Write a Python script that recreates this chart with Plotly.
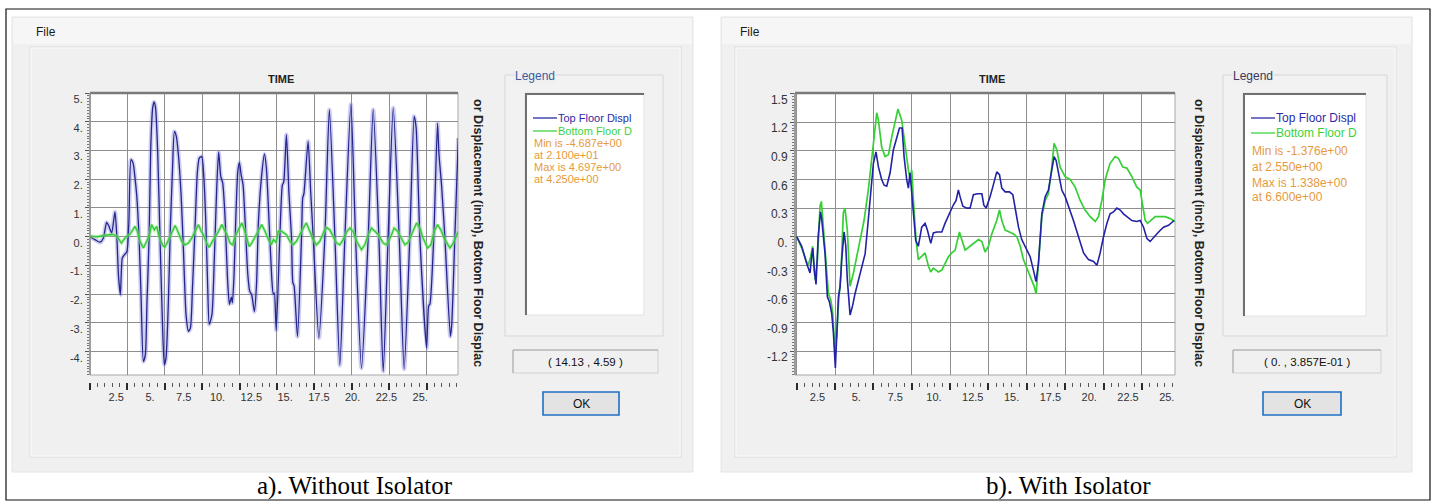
import plotly.graph_objects as go

W, H = 1435, 501

# ---------------- data ----------------
# a) Without isolator
LEFT_TOP_T = [0, 0.33, 0.67, 0.89, 1.11, 1.27, 1.45, 1.67, 1.8, 1.9, 2.03, 2.16, 2.3, 2.47, 2.6, 2.74, 2.88,
              3.01, 3.12, 3.28, 3.41, 3.57, 3.7, 3.81, 3.95, 4.06, 4.19, 4.28, 4.38, 4.53, 4.68, 4.84, 4.97,
              5.08, 5.24, 5.37, 5.51, 5.64, 5.77, 5.91, 6.09, 6.24, 6.42, 6.58, 6.71, 6.85, 7.02, 7.18, 7.31,
              7.47, 7.6, 7.74, 7.87, 7.97, 8.15, 8.32, 8.47, 8.6, 8.74, 8.87, 9.03, 9.19, 9.32, 9.45, 9.52,
              9.63, 9.74, 9.88, 9.99, 10.1, 10.23, 10.37, 10.55, 10.68, 10.81, 10.99, 11.13, 11.26, 11.48,
              11.66, 11.79, 11.97, 12.15, 12.25, 12.32, 12.45, 12.69, 12.86, 12.95, 13.13, 13.3, 13.47,
              13.56, 13.64, 13.87, 14.14, 14.22, 14.3, 14.58, 14.75, 14.92, 15.3, 15.7, 16.0, 16.37, 16.7,
              17.04, 17.44, 17.75, 18.15, 18.6, 18.93, 19.31, 19.6, 19.93, 20.27, 20.67, 21.0, 21.38, 21.67,
              21.8, 22.05, 22.5, 22.64, 22.72, 22.98, 23.23, 23.33, 23.5, 23.72, 24.09, 24.18, 24.39, 24.62]
LEFT_TOP = [0, -0.1, -0.19, -0.05, 0.5, 0.36, 0.13, 0.86, -0.05, -1.32, -2.02, -0.74, -0.63, -0.51, 0.53, 2.68,
            2.56, 2.04, 1.46, -0.05, -2.02, -4.34, -4.1, -2.25, -0.05, 3.08, 4.48, 4.69, 4.5, 2.85, -0.05,
            -2.94, -4.45, -4.22, -2.25, 0.3, 2.27, 3.66, 3.49, 2.85, 1.46, -0.39, -2.71, -3.29, -3.18, -1.79,
            0.3, 2.27, 2.74, 2.79, 2.16, 0.53, -1.79, -3.05, -2.71, -0.63, 1.69, 2.95, 2.1, 1.87, 0.65,
            -1.44, -2.35, -2.1, -2.3, -1.32, 0.53, 2.27, 2.58, 2.16, 1.81, 0.53, -1.32, -1.9, -2.02, -2.6,
            -1.67, 0.53, 2.16, 2.88, 2.39, 0.53, -1.44, -2.0, -1.95, -3.25, 0, 1.8, 1.9, 3.55, 1.5, 0,
            -1.6, -1.7, -3.47, 0, 1.35, 1.5, 3.32, 1.6, 0, -3.52, 0, 4.42, 0, -4.47,
            0, 4.6, 0, -4.57, 0, 4.42, 0, -4.68, 0, 4.48, 0, -4.6, 0, 4.19,
            3.8, 0, -3.87, -2.4, -2.35, 0, 3.95, 2.85, 1.8, 0, -3.47, -3.06, 0, 3.43]

LEFT_BOT_T = [0, 0.5, 1.0, 1.5, 1.8, 2.1, 2.4, 2.7, 3.0, 3.18, 3.34, 3.57, 3.79, 3.97, 4.12, 4.3, 4.46, 4.62,
              4.84, 5.0, 5.2, 5.42, 5.57, 5.69, 5.87, 6.13, 6.35, 6.58, 6.8, 7.14, 7.25, 7.43, 7.58, 7.8, 7.96,
              8.18, 8.47, 8.7, 8.81, 9.03, 9.21, 9.36, 9.54, 9.7, 9.88, 10.03, 10.15, 10.32, 10.48, 10.64,
              10.81, 11.04, 11.26, 11.48, 11.7, 11.88, 12.11, 12.27, 12.45, 12.58, 12.8, 13.13, 13.36, 13.58,
              13.8, 14.02, 14.25, 14.47, 14.69, 14.92, 15.14, 15.36, 15.65, 15.8, 16.03, 16.25, 16.48, 16.7,
              16.92, 17.15, 17.37, 17.59, 17.82, 18.15, 18.37, 18.6, 18.82, 19.05, 19.27, 19.6, 19.82, 20.11,
              20.33, 20.56, 20.83, 21.05, 21.27, 21.5, 21.83, 22.05, 22.27, 22.57, 22.79, 23.01, 23.23, 23.45,
              23.72, 24.06, 24.28, 24.62]
LEFT_BOT = [0.02, 0.0, 0.05, 0.08, 0.02, -0.22, 0.0, 0.1, 0.36, 0.18, -0.16, -0.39, -0.16, 0.07, 0.42, 0.24,
            0.36, 0.01, -0.28, -0.37, -0.16, 0.07, 0.24, 0.39, 0.19, -0.16, -0.28, -0.22, -0.05, 0.3, 0.42,
            0.19, 0.07, -0.22, -0.37, -0.16, 0.07, 0.3, 0.42, 0.19, 0.01, -0.22, -0.28, 0.01, 0.19, 0.36,
            0.48, 0.24, -0.05, -0.34, -0.22, 0.01, 0.24, 0.42, 0.19, -0.05, -0.28, -0.1, -0.2, 0.19, 0.19,
            0.07, -0.16, -0.28, -0.16, 0.07, 0.3, 0.48, 0.19, -0.1, -0.28, -0.16, 0.19, 0.32, 0.24, 0.01,
            -0.22, -0.28, -0.1, 0.16, 0.3, 0.19, -0.16, -0.45, -0.28, 0.07, 0.3, 0.19, 0.07, -0.22, -0.28,
            0.01, 0.3, 0.19, -0.1, -0.28, -0.19, 0.07, 0.48, 0.3, -0.05, -0.39, -0.28, 0.19, 0.42, 0.24,
            -0.1, -0.39, -0.22, 0.19]

# b) With isolator
RIGHT_TOP_T = [0, 0.33, 0.65, 0.87, 0.98, 1.05, 1.15, 1.26, 1.4, 1.55, 1.62, 1.85, 2.0, 2.13, 2.28, 2.39, 2.52,
               2.6, 2.72, 2.83, 2.93, 3.09, 3.2, 3.3, 3.48, 3.65, 3.8, 4.13, 4.46, 4.67, 4.89, 5.0, 5.17, 5.33,
               5.54, 5.7, 5.87, 6.09, 6.3, 6.52, 6.7, 6.87, 7.0, 7.17, 7.28, 7.39, 7.5, 7.61, 7.76, 7.93, 8.15,
               8.37, 8.52, 8.74, 8.91, 9.13, 9.46, 9.67, 10.0, 10.2, 10.39, 10.54, 10.65, 10.83, 11.09, 11.3,
               11.52, 11.78, 12.07, 12.2, 12.35, 12.57, 12.78, 13.04, 13.22, 13.37, 13.59, 13.87, 14.09, 14.24,
               14.46, 14.67, 15.0, 15.22, 15.43, 15.6, 15.76, 15.98, 16.2, 16.41, 16.63, 16.78, 16.91, 17.07,
               17.28, 17.5, 17.83, 18.04, 18.37, 18.7, 19.02, 19.35, 19.57, 19.78, 20.0, 20.22, 20.43, 20.65,
               20.87, 21.09, 21.3, 21.52, 21.85, 22.17, 22.39, 22.61, 22.83, 23.04, 23.3, 23.59, 23.91, 24.24,
               24.6]
RIGHT_TOP = [0, -0.1, -0.28, -0.38, -0.2, -0.12, -0.35, -0.5, 0.0, 0.26, 0.2, -0.18, -0.63, -0.68, -0.8, -1.0,
             -1.376, -1.12, -0.63, -0.53, -0.25, 0.05, -0.1, -0.45, -0.82, -0.72, -0.6, -0.39, -0.18, 0.18, 0.6,
             0.77, 0.89, 0.73, 0.6, 0.54, 0.53, 0.67, 0.91, 1.05, 1.14, 1.14, 0.84, 0.6, 0.51, 0.67, 0.46, 0.25,
             -0.04, -0.1, 0.1, 0.14, 0.07, -0.07, 0.04, 0.05, 0.05, 0.14, 0.26, 0.33, 0.38, 0.49, 0.42, 0.32,
             0.3, 0.3, 0.44, 0.45, 0.45, 0.33, 0.3, 0.4, 0.52, 0.68, 0.65, 0.51, 0.47, 0.47, 0.44, 0.31, 0.1,
             -0.03, -0.14, -0.21, -0.35, -0.47, -0.28, 0.24, 0.42, 0.49, 0.7, 0.84, 0.8, 0.66, 0.49, 0.42, 0.28,
             0.17, 0.0, -0.17, -0.24, -0.26, -0.3, -0.17, 0.0, 0.14, 0.24, 0.26, 0.3, 0.28, 0.24, 0.21, 0.17,
             0.16, 0.17, 0.1, -0.02, -0.05, 0.0, 0.05, 0.1, 0.12, 0.17]

RIGHT_BOT_T = [0, 0.33, 0.61, 0.76, 0.91, 1.04, 1.12, 1.2, 1.35, 1.52, 1.61, 1.74, 1.91, 2.07, 2.22, 2.35, 2.48,
               2.61, 2.74, 2.89, 3.04, 3.15, 3.3, 3.48, 3.7, 3.91, 4.13, 4.39, 4.67, 4.89, 5.11, 5.22, 5.33, 5.54,
               5.76, 5.98, 6.2, 6.41, 6.6, 6.85, 7.07, 7.28, 7.39, 7.5, 7.61, 7.78, 7.93, 8.15, 8.37, 8.59, 8.74,
               8.91, 9.24, 9.46, 9.67, 9.89, 10.11, 10.33, 10.43, 10.61, 10.76, 10.98, 11.3, 11.52, 11.85, 12.07,
               12.28, 12.5, 12.72, 13.04, 13.22, 13.37, 13.59, 13.87, 14.13, 14.35, 14.57, 14.78, 15.04, 15.26,
               15.48, 15.61, 15.76, 15.98, 16.2, 16.41, 16.63, 16.78, 16.96, 17.17, 17.5, 17.83, 18.15, 18.48,
               18.8, 19.13, 19.46, 19.67, 19.89, 20.11, 20.43, 20.76, 20.98, 21.26, 21.52, 21.85, 22.17, 22.39,
               22.57, 22.72, 22.87, 23.09, 23.37, 23.7, 24.02, 24.35, 24.67]
RIGHT_BOT = [0, -0.12, -0.25, -0.3, -0.21, -0.1, -0.3, -0.45, -0.25, 0.32, 0.37, 0.1, -0.32, -0.6, -0.66, -0.8,
             -1.16, -1.05, -0.66, -0.38, 0.25, 0.3, 0.07, -0.52, -0.38, -0.21, -0.03, 0.17, 0.49, 0.84, 1.15,
             1.3, 1.22, 0.94, 0.84, 0.86, 1.05, 1.22, 1.338, 1.22, 0.94, 0.7, 0.6, 0.7, 0.38, -0.03, -0.24,
             -0.21, -0.17, -0.31, -0.37, -0.33, -0.37, -0.35, -0.28, -0.21, -0.17, -0.14, -0.07, 0.05, -0.03,
             -0.14, -0.1, -0.07, -0.03, -0.05, -0.16, -0.1, 0.03, 0.17, 0.28, 0.17, 0.07, 0.05, 0.03, 0.0,
             -0.1, -0.24, -0.35, -0.44, -0.52, -0.6, -0.31, 0.21, 0.38, 0.45, 0.73, 0.98, 0.91, 0.73, 0.63,
             0.6, 0.52, 0.38, 0.28, 0.21, 0.16, 0.21, 0.38, 0.6, 0.77, 0.84, 0.82, 0.73, 0.72, 0.63, 0.52,
             0.49, 0.31, 0.17, 0.14, 0.17, 0.21, 0.21, 0.21, 0.19, 0.16]

X_TICK_VALS = [2.5, 5, 7.5, 10, 12.5, 15, 17.5, 20, 22.5, 25]
X_TICK_TEXT = ["2.5", "5.", "7.5", "10.", "12.5", "15.", "17.5", "20.", "22.5", "25."]
LEFT_Y_VALS = [-4, -3, -2, -1, 0, 1, 2, 3, 4, 5]
LEFT_Y_TEXT = ["-4.", "-3.", "-2.", "-1.", "0.", "1.", "2.", "3.", "4.", "5."]
RIGHT_Y_VALS = [-1.2, -0.9, -0.6, -0.3, 0, 0.3, 0.6, 0.9, 1.2, 1.5]
RIGHT_Y_TEXT = ["-1.2", "-0.9", "-0.6", "-0.3", "0.", "0.3", "0.6", "0.9", "1.2", "1.5"]

SERIES_NAMES = ["Top Floor Displ", "Bottom Floor D"]
LEFT_INFO = ["Min is -4.687e+00", "at 2.100e+01", "Max is 4.697e+00", "at 4.250e+00"]
RIGHT_INFO = ["Min is -1.376e+00", "at 2.550e+00", "Max is 1.338e+00", "at 6.600e+00"]
LEFT_COORD = "( 14.13 , 4.59 )"
RIGHT_COORD = "( 0. , 3.857E-01 )"
Y_TITLE = "or Displacement (inch), Bottom Floor Displac"
CAPTIONS = ["a). Without Isolator", "b). With Isolator"]

# ---------------- helpers ----------------
def X(px):
    return px / W


def Y(py):
    return 1 - py / H


UI = "Liberation Sans, Arial, sans-serif"
shapes = []
annotations = []


def rect(x0, y0, x1, y1, fill=None, line=None, lw=1, layer="below"):
    shapes.append(dict(type="rect", xref="paper", yref="paper", x0=X(x0), x1=X(x1), y0=Y(y1), y1=Y(y0),
                       fillcolor=fill if fill else "rgba(0,0,0,0)",
                       line=dict(color=line if line else "rgba(0,0,0,0)", width=lw if line else 0),
                       layer=layer))


def seg(x0, y0, x1, y1, color, lw=1, layer="below"):
    shapes.append(dict(type="line", xref="paper", yref="paper", x0=X(x0), x1=X(x1), y0=Y(y0), y1=Y(y1),
                       line=dict(color=color, width=lw), layer=layer))


def txt(x, y, s, size=12, color="#000", xanchor="left", bold=False, angle=0, family=UI, bg=None):
    annotations.append(dict(x=X(x), y=Y(y), xref="paper", yref="paper", text=("<b>%s</b>" % s) if bold else s,
                            showarrow=False, xanchor=xanchor, yanchor="middle", textangle=angle,
                            font=dict(size=size, color=color, family=family),
                            bgcolor=bg if bg else "rgba(0,0,0,0)", borderpad=0))


# outer frame
rect(6, 9, 1430, 500, fill="#ffffff", line="#111111", lw=1.2)

panels = [
    dict(win=(12, 17, 693, 472), inner=(30, 47, 681, 457), plot=(90, 93, 458, 375),
         gbox=(505, 75, 663, 336), wbox=(525, 93, 644, 315), cbox=(513, 350, 658, 373), ok=(543, 392, 619, 415),
         file_x=35, time_x=281, ytitle_x=478, legend_col="#3a5ba0", info=LEFT_INFO, coord=LEFT_COORD,
         rows=[118, 131, 143, 155, 167, 179], fs=11, cap_x=355, cap=CAPTIONS[0], ysize=11),
    dict(win=(721, 17, 1412, 472), inner=(735, 47, 1396, 457), plot=(795, 93, 1175, 375),
         gbox=(1223, 75, 1387, 336), wbox=(1243, 93, 1366, 316), cbox=(1233, 350, 1381, 373),
         ok=(1263, 392, 1341, 415),
         file_x=739, time_x=992, ytitle_x=1199, legend_col="#3a3a5a", info=RIGHT_INFO, coord=RIGHT_COORD,
         rows=[118, 133, 151, 167, 183, 197], fs=12, cap_x=1068, cap=CAPTIONS[1], ysize=12),
]

for p in panels:
    x0, y0, x1, y1 = p["win"]
    rect(x0, y0, x1, y1, fill="#f0f0f0", line="#e4e4e4", lw=1)
    rect(x0 + 1, y0 + 1, x1 - 1, 44, fill="#f6f6f6")
    ix0, iy0, ix1, iy1 = p["inner"]
    rect(ix0, iy0, ix1, iy1, fill="#f0f0f0", line="#dcdcdc", lw=1)
    rect(ix0 + 1, iy0 + 1, ix1 - 1, iy1 - 1, line="#fbfbfb", lw=1)
    # legend group box
    gx0, gy0, gx1, gy1 = p["gbox"]
    rect(gx0, gy0, gx1, gy1, fill="#f2f2f2", line="#d6d6d6", lw=1)
    wx0, wy0, wx1, wy1 = p["wbox"]
    rect(wx0, wy0, wx1, wy1, fill="#ffffff", line="#e2e2e2", lw=1)
    seg(wx0, wy0 + 1, wx1, wy0 + 1, "#707070", 2)
    seg(wx0 + 1, wy0, wx0 + 1, wy1, "#707070", 2)
    # coord box
    cx0, cy0, cx1, cy1 = p["cbox"]
    rect(cx0, cy0, cx1, cy1, fill="#f0f0f0", line="#d0d0d0", lw=1)
    seg(cx0, cy0, cx1, cy0, "#a8a8a8", 1)
    seg(cx0, cy0, cx0, cy1, "#a8a8a8", 1)
    # OK button
    ox0, oy0, ox1, oy1 = p["ok"]
    rect(ox0, oy0, ox1, oy1, fill="#e3e3e3", line="#1f6fc4", lw=1.6)
    # plot area
    px0, py0, px1, py1 = p["plot"]
    rect(px0, py0, px1, py1, fill="#ffffff", line="#a9a9a9", lw=1)
    seg(px0, py0, px1, py0, "#7a7a7a", 2.5, layer="above")
    seg(px0, py0, px0, py1, "#8c8c8c", 1.5, layer="above")

    # texts
    txt(p["file_x"], 32, "File", size=12, color="#1a1a1a")
    txt(p["time_x"], 79, "TIME", size=11, color="#222", xanchor="center", bold=True)
    txt(p["ytitle_x"], 233, Y_TITLE, size=12.5, color="#222", xanchor="center", bold=True, angle=90)
    txt(gx0 + 9, gy0 + 1, "Legend", size=12, color=p["legend_col"], bg="#f0f0f0")
    r = p["rows"]
    fs = p["fs"]
    lx = wx0 + 8
    seg(lx, r[0], lx + 24, r[0], "#2b2ba6", 1.3)
    txt(lx + 24, r[0], SERIES_NAMES[0], size=fs, color="#2b2ba6")
    seg(lx, r[1], lx + 24, r[1], "#3bd23b", 1.3)
    txt(lx + 24, r[1], SERIES_NAMES[1], size=fs, color="#3bd23b")
    for k, line in enumerate(p["info"]):
        txt(lx, r[2 + k], line, size=fs, color="#e69a3c")
    txt((cx0 + cx1) / 2, (cy0 + cy1) / 2, p["coord"], size=11.5, color="#111", xanchor="center")
    txt((ox0 + ox1) / 2, (oy0 + oy1) / 2, "OK", size=12, color="#111", xanchor="center")
    txt(p["cap_x"], 486, p["cap"], size=25, color="#000", xanchor="center",
        family="Liberation Serif, Times New Roman, serif")

# ---------------- traces ----------------
fig = go.Figure()
fig.add_trace(go.Scatter(x=LEFT_TOP_T, y=LEFT_TOP, xaxis="x", yaxis="y", mode="lines",
                         line=dict(color="rgba(130,130,220,0.38)", width=4.5, shape="spline", smoothing=0.6),
                         hoverinfo="skip", showlegend=False))
fig.add_trace(go.Scatter(x=LEFT_TOP_T, y=LEFT_TOP, xaxis="x", yaxis="y", mode="lines",
                         line=dict(color="#25258c", width=1.3, shape="spline", smoothing=0.6),
                         hoverinfo="skip", showlegend=False))
fig.add_trace(go.Scatter(x=LEFT_BOT_T, y=LEFT_BOT, xaxis="x", yaxis="y", mode="lines",
                         line=dict(color="rgba(140,228,140,0.5)", width=3.5),
                         hoverinfo="skip", showlegend=False))
fig.add_trace(go.Scatter(x=LEFT_BOT_T, y=LEFT_BOT, xaxis="x", yaxis="y", mode="lines",
                         line=dict(color="#35c935", width=1.4),
                         hoverinfo="skip", showlegend=False))
fig.add_trace(go.Scatter(x=RIGHT_BOT_T, y=RIGHT_BOT, xaxis="x2", yaxis="y2", mode="lines",
                         line=dict(color="#36cf36", width=1.7), hoverinfo="skip", showlegend=False))
fig.add_trace(go.Scatter(x=RIGHT_TOP_T, y=RIGHT_TOP, xaxis="x2", yaxis="y2", mode="lines",
                         line=dict(color="#2222a6", width=1.6), hoverinfo="skip", showlegend=False))
# carriers for the tick-label axes (no visible marks)
fig.add_trace(go.Scatter(x=X_TICK_VALS, y=[None] * len(X_TICK_VALS), xaxis="x3", yaxis="y", mode="lines",
                         hoverinfo="skip", showlegend=False))
fig.add_trace(go.Scatter(x=X_TICK_VALS, y=[None] * len(X_TICK_VALS), xaxis="x4", yaxis="y2", mode="lines",
                         hoverinfo="skip", showlegend=False))

GRID = "#8e8e8e"


def data_xaxis(dom, rng):
    return dict(domain=[X(dom[0]), X(dom[1])], range=rng, anchor="free", position=Y(382),
                showgrid=True, gridcolor=GRID, gridwidth=1.3, tick0=0, dtick=2.5,
                ticks="outside", ticklen=7, tickwidth=1.6, tickcolor="#2a2a2a", showticklabels=False,
                showline=False, zeroline=False, fixedrange=True, automargin=False,
                minor=dict(dtick=0.5, ticks="outside", ticklen=4, tickwidth=1.3, tickcolor="#555", showgrid=False))


def label_xaxis(over, rng):
    return dict(overlaying=over, range=rng, anchor="free", position=Y(389), showgrid=False, zeroline=False,
                showline=False, ticks="", tickmode="array", tickvals=X_TICK_VALS, ticktext=X_TICK_TEXT,
                tickfont=dict(size=11, color="#333", family=UI), fixedrange=True, automargin=False)


def yaxis(anchor, rng, vals, text, minor_dt, size):
    return dict(domain=[Y(375), Y(93)], range=rng, anchor=anchor, tickmode="array", tickvals=vals,
                ticktext=text, ticks="outside", ticklen=4, tickwidth=1.2, tickcolor="#555",
                showgrid=True, gridcolor=GRID, gridwidth=1.3, zeroline=False, showline=False,
                ticklabelshift=6, tickfont=dict(size=size, color="#333", family=UI), fixedrange=True,
                automargin=False,
                minor=dict(dtick=minor_dt, ticks="outside", ticklen=2, tickwidth=1, tickcolor="#777",
                           showgrid=False))


fig.update_layout(
    width=W, height=H, margin=dict(l=0, r=0, t=0, b=0, pad=0, autoexpand=False),
    paper_bgcolor="#ffffff", plot_bgcolor="rgba(0,0,0,0)", showlegend=False,
    xaxis=data_xaxis((90, 458), [0, 24.6]),
    yaxis=yaxis("x", [-4.81, 5.0], LEFT_Y_VALS, LEFT_Y_TEXT, 0.1, 11),
    xaxis2=data_xaxis((795, 1175), [-0.11, 24.66]),
    yaxis2=yaxis("x2", [-1.45, 1.507], RIGHT_Y_VALS, RIGHT_Y_TEXT, 0.03, 12),
    xaxis3=label_xaxis("x", [0.56, 27.8]),
    xaxis4=label_xaxis("x2", [1.05, 25.53]),
    shapes=shapes, annotations=annotations,
)

fig.write_html("out.html", config={"displayModeBar": False},
               post_script="document.body.style.margin='0';document.body.style.overflow='hidden';")
